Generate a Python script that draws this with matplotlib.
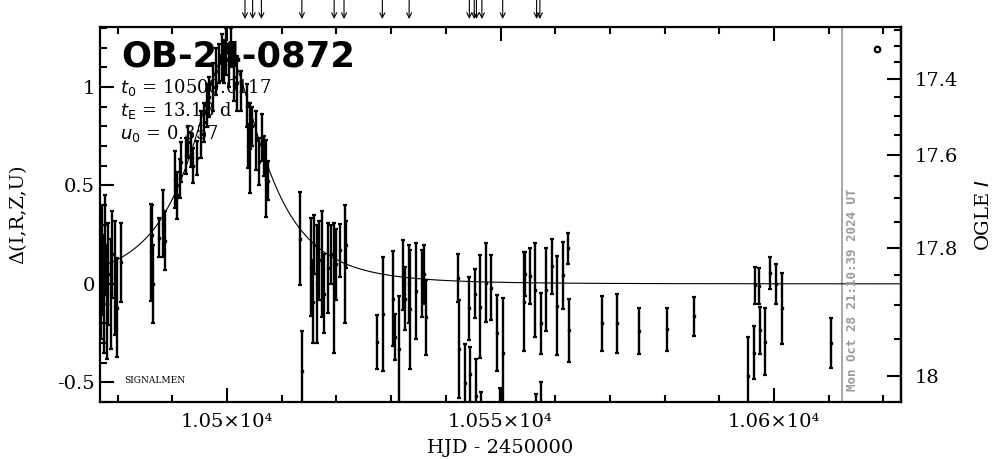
import numpy as np
import matplotlib
matplotlib.use("Agg")
import matplotlib.pyplot as plt
from matplotlib.ticker import MultipleLocator, FuncFormatter

# OGLE photometry: HJD-2450000, delta, error
hjd = [10477.05, 10477.25, 10477.45, 10477.70, 10478.05, 10478.30, 10478.75, 10479.00,
       10479.50, 10479.90, 10480.60,
       10486.20, 10486.30, 10486.50, 10487.60, 10488.30, 10488.70,
       10490.50, 10490.80, 10491.40, 10491.60,
       10492.60, 10492.90, 10493.50, 10493.80, 10494.60,
       10495.30, 10495.80, 10496.30, 10496.70, 10497.40, 10498.00, 10498.50, 10499.10,
       10499.50, 10499.90, 10500.40, 10500.70, 10501.30, 10501.80, 10502.60,
       10503.60, 10503.80, 10504.30, 10504.60, 10505.40, 10505.80, 10506.40, 10506.70,
       10507.10, 10507.50,
       10513.35, 10513.66,
       10515.40, 10515.70, 10516.00, 10516.40, 10516.80, 10517.40, 10517.80, 10518.50,
       10519.00, 10519.50, 10520.00, 10520.60, 10521.60, 10521.80,
       10527.40, 10528.50,
       10530.40, 10530.70, 10531.50, 10532.20, 10532.50, 10533.20, 10533.50, 10534.60,
       10535.60, 10536.00, 10536.40,
       10542.30, 10542.40, 10543.50, 10544.30, 10544.40, 10545.30, 10545.60, 10546.25,
       10546.40, 10547.35, 10548.20, 10549.30, 10549.90, 10550.40,
       10554.30, 10554.50, 10555.40, 10556.30, 10556.50, 10557.35, 10557.40, 10558.30,
       10559.40, 10560.30, 10561.40, 10562.40, 10562.45,
       10568.50, 10571.35, 10575.40, 10580.50, 10585.40,
       10595.30, 10596.40, 10596.45, 10597.30, 10597.45, 10598.40, 10599.30, 10600.30,
       10601.40, 10610.40]
delta = [0.05, 0.12, -0.05, 0.20, -0.10, 0.05, -0.05, 0.15,
         0.03, -0.12, 0.11,
         0.16, 0.25, 0.00, 0.235, 0.305, 0.22,
         0.53, 0.45, 0.535, 0.62,
         0.65, 0.72, 0.68, 0.60, 0.64,
         0.76, 0.82, 0.905, 0.95, 1.00, 1.08, 1.12, 1.15,
         1.13, 1.18, 1.11, 1.20, 1.05, 1.02, 0.98,
         0.905, 0.70, 0.69, 0.80, 0.73, 0.62, 0.745, 0.65,
         0.535, 0.525,
         0.23, -0.44,
         0.085, -0.09, 0.20, 0.00, 0.12, 0.10, -0.05, 0.08,
         0.15, -0.02, 0.10, 0.17, 0.10, 0.20,
         -0.295, -0.155,
         -0.075, -0.27, -0.33, 0.045, -0.075, 0.00, -0.13, -0.035,
         0.00, 0.05, -0.17,
         0.03, -0.33, -0.505, -0.125, -0.46, -0.05, -0.57, -0.115,
         -0.75, 0.007, -0.02, -0.25, -0.75, -0.35,
         -0.09, 0.05, 0.04, -0.03, -0.78, -0.20, -0.72, -0.03,
         0.09, -0.11, 0.043, 0.18, -0.236,
         -0.20, -0.20, -0.24, -0.23, -0.165,
         -0.47, -0.35, -0.008, -0.01, -0.236, -0.295, 0.056, 0.00,
         -0.125, -0.30]
err = [0.33, 0.28, 0.30, 0.25, 0.28, 0.26, 0.28, 0.22,
       0.29, 0.25, 0.20,
       0.245, 0.15, 0.20, 0.10, 0.17, 0.15,
       0.145, 0.12, 0.10, 0.10,
       0.09, 0.08, 0.085, 0.09, 0.085,
       0.12, 0.10, 0.11, 0.10, 0.12, 0.12, 0.10, 0.12,
       0.11, 0.12, 0.11, 0.10, 0.12, 0.14, 0.10,
       0.11, 0.11, 0.23, 0.10, 0.15, 0.12, 0.12, 0.10,
       0.195, 0.10,
       0.235, 0.20,
       0.25, 0.21, 0.15, 0.30, 0.20, 0.27, 0.20, 0.23,
       0.15, 0.33, 0.18, 0.135, 0.30, 0.12,
       0.135, 0.29,
       0.24, 0.115, 0.27, 0.18, 0.16, 0.20, 0.30, 0.245,
       0.17, 0.15, 0.19,
       0.12, 0.25, 0.20, 0.16, 0.14, 0.125, 0.19, 0.26,
       0.20, 0.20, 0.165, 0.195, 0.22, 0.28,
       0.25, 0.11, 0.14, 0.24, 0.22, 0.155, 0.22, 0.21,
       0.14, 0.25, 0.17, 0.08, 0.16,
       0.14, 0.15, 0.115, 0.11, 0.10,
       0.20, 0.135, 0.093, 0.093, 0.118, 0.17, 0.08, 0.10,
       0.178, 0.125]

# PSPL fit parameters
t0 = 10500.0117
tE = 13.18
u0 = 0.357
fs_ogle = 0.3335
I_base = 17.865

# epochs marked by arrows along the top
arrow_hjd = [10503.3, 10504.7, 10506.3, 10513.7, 10519.6, 10521.4, 10528.4, 10533.3,
             10544.3, 10545.2, 10545.6, 10546.6, 10550.4, 10556.6, 10557.2]
now_hjd = 10612.4
dataset_symbol = (10618.8, 1.195)

xmin, xmax = 10476.8, 10623.2
ymin, ymax = -0.60, 1.305

plt.rcParams['font.family'] = ['DejaVu Serif']
fig = plt.figure(figsize=(10.04, 4.59), dpi=100)
ax = fig.add_axes([100 / 1004, 57 / 459, 801 / 1004, 375 / 459])

ax.errorbar(hjd, delta, yerr=err, fmt='s', ms=2.0, color='black', ecolor='black',
            elinewidth=1.7, capsize=1.5, capthick=1.6, zorder=3)

t = np.linspace(xmin, xmax, 1500)
u = np.sqrt(u0 ** 2 + ((t - t0) / tE) ** 2)
A = (u ** 2 + 2) / (u * np.sqrt(u ** 2 + 4))
ax.plot(t, 2.5 * np.log10(A), color='black', lw=0.8, zorder=2)

ax.axvline(now_hjd, color='#999999', lw=1.2, zorder=1)
ax.text(now_hjd + 2.0, -0.545, 'Mon Oct 28 21:10:39 2024 UT', rotation=90,
        ha='center', va='bottom', color='#999999', fontsize=9,
        family='DejaVu Sans Mono', fontweight='bold')

ax.plot([dataset_symbol[0]], [dataset_symbol[1]], 'o', ms=4, mfc='white',
        mec='black', mew=1.6)

for ta in arrow_hjd:
    ax.annotate('', xy=(ta, 1 + 8 / 375), xytext=(ta, 1 + 27 / 375),
                xycoords=ax.get_xaxis_transform(), textcoords=ax.get_xaxis_transform(),
                annotation_clip=False,
                arrowprops=dict(arrowstyle='->', lw=0.8, color='black',
                                shrinkA=0, shrinkB=0, mutation_scale=9))

ax.text(0.027, 0.966, 'OB-24-0872', transform=ax.transAxes, fontsize=25.5,
        family='DejaVu Sans', fontweight='bold', va='top', ha='left')
ax.text(0.025, 0.84, r'$t_0$ = %.4f' % t0, transform=ax.transAxes, fontsize=13,
        va='center', ha='left')
ax.text(0.025, 0.778, r'$t_{\rm E}$ = %.2f d' % tE, transform=ax.transAxes, fontsize=13,
        va='center', ha='left')
ax.text(0.025, 0.716, r'$u_0$ = %.3f' % u0, transform=ax.transAxes, fontsize=13,
        va='center', ha='left')
ax.text(0.03, 0.058, 'SIGNALMEN', transform=ax.transAxes, fontsize=6.5,
        va='center', ha='left')

ax.set_xlim(xmin, xmax)
ax.set_ylim(ymin, ymax)
ax.xaxis.set_major_locator(MultipleLocator(50))
ax.xaxis.set_minor_locator(MultipleLocator(10))
ax.yaxis.set_major_locator(MultipleLocator(0.5))
ax.yaxis.set_minor_locator(MultipleLocator(0.1))
ax.xaxis.set_major_formatter(FuncFormatter(lambda v, p: '%g×10⁴' % (v / 1e4)))
ax.yaxis.set_major_formatter(FuncFormatter(lambda v, p: '%g' % v))
ax.tick_params(which='both', direction='in', top=True, right=False, width=1.5,
               labelsize=14)
ax.tick_params(which='major', length=10)
ax.tick_params(which='minor', length=5)
ax.tick_params(axis='x', pad=8)
ax.xaxis.get_offset_text().set_visible(False)
ax.yaxis.get_offset_text().set_visible(False)
for s in ax.spines.values():
    s.set_linewidth(1.6)


def to_mag(d):
    d = np.asarray(d, dtype=float)
    arg = 1 + fs_ogle * (10 ** (0.4 * d) - 1)
    with np.errstate(invalid='ignore', divide='ignore'):
        return I_base - 2.5 * np.log10(np.where(arg > 0, arg, np.nan))


def to_delta(m):
    m = np.asarray(m, dtype=float)
    arg = 1 + (10 ** (-0.4 * (m - I_base)) - 1) / fs_ogle
    with np.errstate(invalid='ignore', divide='ignore'):
        return 2.5 * np.log10(np.where(arg > 0, arg, np.nan))


sec = ax.secondary_yaxis('right', functions=(to_mag, to_delta))
sec.yaxis.set_major_locator(MultipleLocator(0.2))
sec.yaxis.set_minor_locator(MultipleLocator(0.05))
sec.yaxis.set_major_formatter(FuncFormatter(lambda v, p: '%g' % round(v, 2)))
sec.tick_params(which='both', direction='in', width=1.5, labelsize=14)
sec.tick_params(which='major', length=10, pad=10)
sec.tick_params(which='minor', length=5)
sec.spines['right'].set_linewidth(1.6)
sec.set_ylabel('OGLE $I$', fontsize=14, labelpad=12)
sec.yaxis.get_offset_text().set_visible(False)
sec.xaxis.set_visible(False)

ax.set_ylabel('Δ(I,R,Z,U)', fontsize=14, labelpad=22)
ax.set_xlabel('HJD - 2450000', fontsize=14, labelpad=6)

fig.savefig('out.png', dpi=100)
